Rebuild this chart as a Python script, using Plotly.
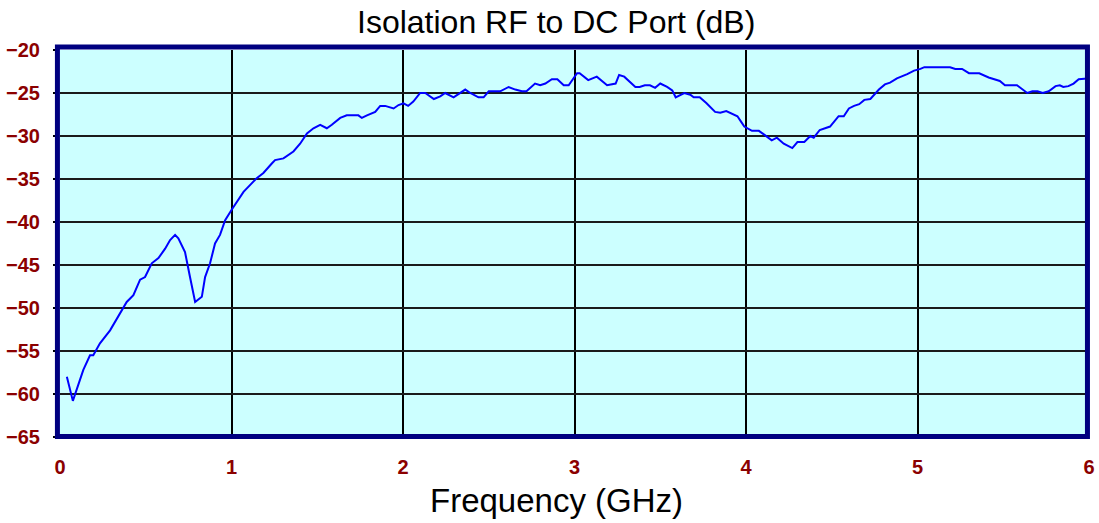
import plotly.graph_objects as go

freq_ghz = [0.04, 0.075, 0.136, 0.175, 0.194, 0.233, 0.292, 0.36, 0.389, 0.428, 0.467, 0.496,
            0.535, 0.574, 0.613, 0.642, 0.671, 0.69, 0.729, 0.758, 0.788, 0.827, 0.846, 0.875,
            0.904, 0.933, 0.963, 1.0, 1.05, 1.07, 1.147, 1.186, 1.235, 1.254, 1.303, 1.361,
            1.4, 1.44, 1.478, 1.517, 1.556, 1.585, 1.634, 1.672, 1.74, 1.76, 1.79, 1.838,
            1.867, 1.896, 1.945, 1.974, 2.003, 2.03, 2.06, 2.1, 2.13, 2.18, 2.217, 2.246,
            2.295, 2.334, 2.363, 2.392, 2.44, 2.47, 2.5, 2.567, 2.616, 2.655, 2.693, 2.72,
            2.77, 2.8, 2.83, 2.868, 2.9, 2.937, 2.966, 3.015, 3.03, 3.08, 3.13, 3.19,
            3.24, 3.26, 3.29, 3.355, 3.38, 3.41, 3.44, 3.47, 3.5, 3.54, 3.57, 3.59,
            3.64, 3.675, 3.695, 3.73, 3.77, 3.82, 3.85, 3.885, 3.92, 3.95, 3.97, 3.99,
            4.035, 4.075, 4.11, 4.15, 4.18, 4.22, 4.27, 4.3, 4.34, 4.375, 4.395, 4.43,
            4.49, 4.54, 4.57, 4.6, 4.63, 4.66, 4.69, 4.725, 4.775, 4.81, 4.84, 4.88,
            4.94, 4.98, 5.017, 5.04, 5.19, 5.22, 5.26, 5.3, 5.36, 5.415, 5.48, 5.51,
            5.58, 5.64, 5.67, 5.7, 5.73, 5.765, 5.805, 5.83, 5.85, 5.88, 5.91, 5.94, 5.99]

isolation_db = [-58.0, -60.8, -57.2, -55.5, -55.5, -54.1, -52.6, -50.4, -49.3, -48.5, -46.7, -46.4,
                -44.8, -44.2, -43.1, -42.1, -41.5, -41.9, -43.5, -46.4, -49.3, -48.7, -46.4, -44.8,
                -42.5, -41.5, -39.8, -38.6, -37.2, -36.5, -34.9, -34.3, -33.2, -32.8, -32.6, -31.8,
                -30.9, -29.7, -29.1, -28.7, -29.1, -28.7, -27.9, -27.6, -27.6, -27.9, -27.6, -27.2,
                -26.5, -26.5, -26.8, -26.4, -26.2, -26.5, -26.0, -25.0, -25.0, -25.7, -25.4, -25.0,
                -25.5, -25.0, -24.6, -25.0, -25.5, -25.5, -24.8, -24.8, -24.3, -24.6, -24.8, -24.8,
                -23.9, -24.1, -23.9, -23.4, -23.4, -24.1, -24.1, -22.7, -22.7, -23.5, -23.1, -24.1,
                -23.9, -22.9, -23.1, -24.3, -24.3, -24.1, -24.1, -24.4, -23.9, -24.3, -24.7, -25.5,
                -25.0, -25.2, -25.5, -25.5, -26.2, -27.2, -27.3, -27.1, -27.4, -27.7, -28.3, -28.9,
                -29.4, -29.4, -29.9, -30.5, -30.2, -30.9, -31.4, -30.7, -30.7, -30.0, -30.2, -29.3,
                -28.9, -27.7, -27.7, -26.8, -26.5, -26.3, -25.8, -25.7, -24.6, -24.0, -23.8, -23.3,
                -22.8, -22.4, -22.2, -22.0, -22.0, -22.2, -22.2, -22.7, -22.7, -23.2, -23.6, -24.1,
                -24.1, -25.0, -24.8, -24.8, -25.0, -24.8, -24.2, -24.1, -24.3, -24.2, -23.9, -23.4, -23.3]

x_ticks = [0, 1, 2, 3, 4, 5, 6]
y_ticks = [-20, -25, -30, -35, -40, -45, -50, -55, -60, -65]

title_text = "Isolation RF to DC Port (dB)"
x_title = "Frequency (GHz)"

FONT = "Liberation Sans, Arial, sans-serif"
tick_font = dict(family=FONT, size=20, color="#8B0000", weight="bold")

W, H = 1099, 523
L, R, T, B = 60, 10, 50, 86
PH = H - T - B

fig = go.Figure()
fig.add_trace(go.Scatter(x=freq_ghz, y=isolation_db, mode="lines",
                         line=dict(color="#0000FF", width=2), showlegend=False))

fig.update_layout(
    width=W, height=H,
    margin=dict(l=L, r=R, t=T, b=B, autoexpand=False),
    paper_bgcolor="white",
    plot_bgcolor="#CCFFFF",
    xaxis=dict(range=[0, 6], tickvals=x_ticks, ticks="", showline=False, zeroline=False,
               showgrid=True, gridcolor="black", gridwidth=2, automargin=False,
               tickfont=tick_font, ticklabelstandoff=16),
    yaxis=dict(range=[-65, -20], tickvals=y_ticks, ticks="outside", ticklen=6,
               tickcolor="black", tickwidth=2, showline=False, zeroline=False,
               showgrid=True, gridcolor="#1a1a1a", gridwidth=2, automargin=False,
               tickfont=tick_font, ticklabelstandoff=9),
)

fig.add_annotation(text=title_text, xref="paper", yref="paper", x=0.4825,
                   y=1 + (T - 22) / PH, xanchor="center", yanchor="middle", showarrow=False,
                   font=dict(family=FONT, size=32, color="black"))
fig.add_annotation(text=x_title, xref="paper", yref="paper", x=0.4825,
                   y=-(500 - (T + PH)) / PH, xanchor="center", yanchor="middle", showarrow=False,
                   font=dict(family=FONT, size=33, color="black"))

fig.add_shape(type="rect", xref="paper", yref="paper",
              x0=-0.0025, x1=0.9985, y0=0.001, y1=1.008,
              line=dict(color="#000080", width=5), fillcolor="rgba(0,0,0,0)", layer="above")

fig.write_html("out.html", config={"displayModeBar": False},
               post_script="document.body.style.margin='0px';document.body.style.padding='0px';")
